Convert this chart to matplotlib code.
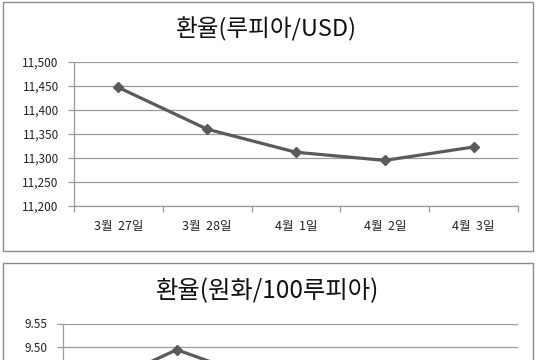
import matplotlib
matplotlib.use("Agg")
import matplotlib.pyplot as plt
from matplotlib.patches import Rectangle

plt.rcParams['font.family'] = ['Noto Sans CJK KR', 'DejaVu Sans']

# ---- data ----
title_top = "환율(루피아/USD)"
dates_top = ["3월  27일", "3월  28일", "4월  1일", "4월  2일", "4월  3일"]
rate_usd = [11447, 11360, 11312, 11295, 11323]
yticks_top = [11200, 11250, 11300, 11350, 11400, 11450, 11500]

title_bot = "환율(원화/100루피아)"
n_bot = 6  # categories of the lower chart (labels fall outside the visible crop)
rate_krw = [9.419, 9.494, 9.436, 9.41, 9.39, 9.40]
yticks_bot = [9.30, 9.35, 9.40, 9.45, 9.50, 9.55]
yticks_bot_shown = [9.50, 9.55]

W, H = 537, 360
fig = plt.figure(figsize=(W / 100, H / 100), dpi=100)
fig.patch.set_facecolor('white')

def px_rect(x0, y0, x1, y1):
    return [x0 / W, 1 - y1 / H, (x1 - x0) / W, (y1 - y0) / H]

line_col = '#5a5a5a'
grid_col = '#9a9a9a'
border_col = '#8c8c8c'

for (x0, y0, x1, y1) in [(3, 2, 533, 251), (3, 263, 533, 520)]:
    l, b, w, h = px_rect(x0, y0, x1, y1)
    fig.add_artist(Rectangle((l, b), w, h, transform=fig.transFigure,
                             fill=False, edgecolor=border_col, lw=1.0, clip_on=False))

def style_axes(ax, n, yticks, labels):
    ax.set_xlim(0, n)
    ax.set_ylim(yticks[0], yticks[-1])
    ax.set_yticks(yticks)
    ax.set_yticklabels(labels, fontsize=8.5, color='#222222')
    ax.yaxis.grid(True, color=grid_col, lw=0.9)
    ax.set_axisbelow(True)
    for s in ['top', 'right']:
        ax.spines[s].set_visible(False)
    for s in ['left', 'bottom']:
        ax.spines[s].set_color(grid_col)
        ax.spines[s].set_linewidth(0.9)
    ax.tick_params(axis='y', length=4, width=0.9, color=grid_col, pad=7)
    ax.set_xticks(range(0, n + 1))
    ax.set_xticklabels([])
    ax.tick_params(axis='x', length=4, width=0.9, color=grid_col)
    ax.set_facecolor('none')

# ---- top chart ----
ax1 = fig.add_axes(px_rect(74, 62, 518, 206))
n1 = len(dates_top)
xs1 = [i + 0.5 for i in range(n1)]
ax1.plot(xs1, rate_usd, color=line_col, lw=2.3, marker='D', markersize=5.5,
         markerfacecolor=line_col, markeredgecolor=line_col, clip_on=False, zorder=3)
style_axes(ax1, n1, yticks_top, [f"{v:,.0f}" for v in yticks_top])
ax1.set_xticks(xs1, minor=True)
ax1.set_xticklabels(dates_top, minor=True, fontsize=9, color='#222222')
ax1.tick_params(axis='x', which='minor', length=0, pad=10)
fig.text(266.5 / W, 1 - 29 / H, title_top, ha='center', va='center',
         fontsize=17, color='#111111')

# ---- bottom chart (extends below the visible crop) ----
ax2 = fig.add_axes(px_rect(63, 323.5, 518, 440.5))
xs2 = [i + 0.5 for i in range(n_bot)]
ax2.plot(xs2, rate_krw, color=line_col, lw=2.3, marker='D', markersize=5.5,
         markerfacecolor=line_col, markeredgecolor=line_col, clip_on=False, zorder=3)
style_axes(ax2, n_bot, yticks_bot,
           [f"{v:.2f}" if v in yticks_bot_shown else "" for v in yticks_bot])
fig.text(268 / W, 1 - 291 / H, title_bot, ha='center', va='center',
         fontsize=17.5, color='#111111')

fig.savefig("out.png", dpi=100)
